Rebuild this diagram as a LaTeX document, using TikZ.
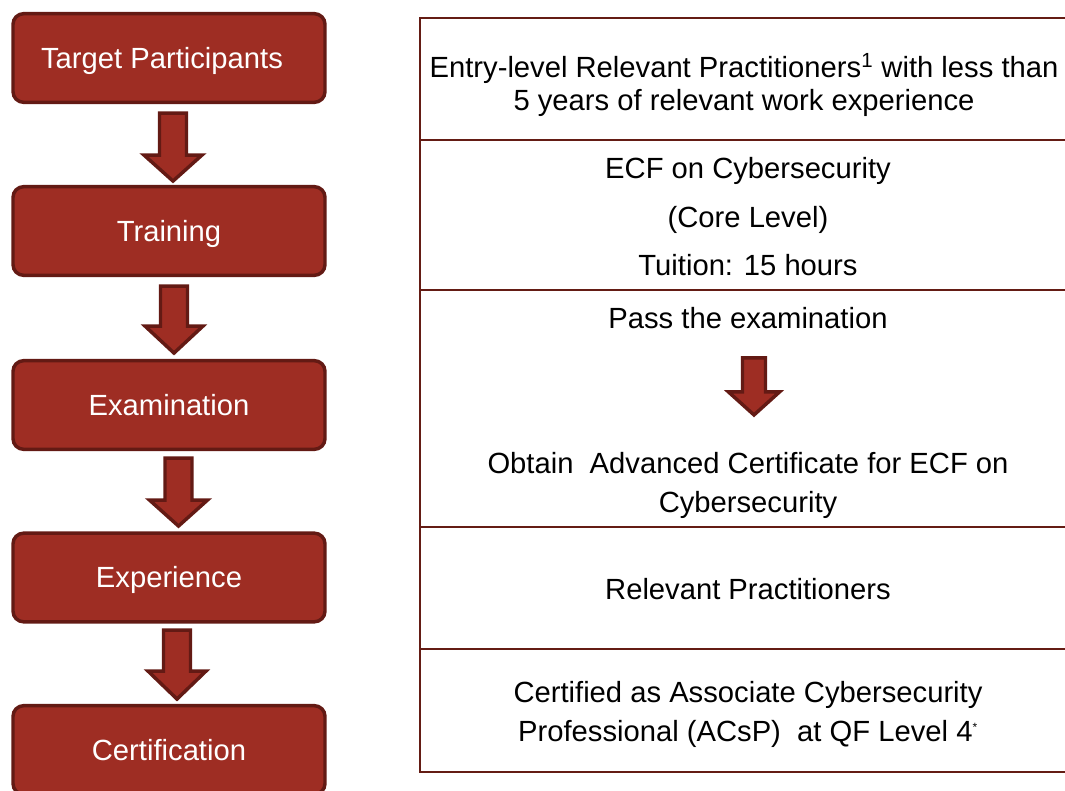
\documentclass[tikz,border=0pt]{standalone}
\usepackage{fontspec}
\setmainfont{Liberation Sans}
\usetikzlibrary{calc}
\definecolor{boxfill}{HTML}{9E2D23}
\definecolor{boxline}{HTML}{631A14}
\definecolor{tabline}{HTML}{641C14}
\newcommand\blockarr[5]{\draw[blockarrow] (#1) ++({-#4},0) -- ++(0,#2) -- ++({-(#5-#4)},0) -- ++(#5,#3) -- ++(#5,{-#3}) -- ++({-(#5-#4)},0) -- ++(0,{-#2}) -- cycle;}
\begin{document}
\begin{tikzpicture}[x=0.75pt,y=-0.75pt,
  stage/.style={draw=boxline, fill=boxfill, line width=2.6pt, rounded corners=8pt,
    minimum width=234pt, minimum height=66.5pt, inner sep=0pt, text=white,
    font=\fontsize{21.9}{26}\selectfont, text height=15.7pt, text depth=0pt},
  cell/.style={anchor=base, inner sep=0pt, text=black, font=\fontsize{21.9}{26}\selectfont},
  blockarrow/.style={draw=boxline, fill=boxfill, line width=2.6pt, line join=miter},
  tab/.style={draw=tabline, line width=1.3pt}]
\useasboundingbox (0,0) rectangle (1065,791);

% left column
\node[stage] (tp) at (169,58) {Target Participants\kern10.5pt};
\node[stage] (tr) at (169,231) {Training};
\node[stage] (ex) at (169,405) {Examination};
\node[stage] (xp) at (169,577.5) {Experience};
\node[stage] (ce) at (169,750) {Certification};

\coordinate (a1) at ($(tp.south)+(4,9)$);
\coordinate (a2) at ($(tr.south)+(5,9)$);
\coordinate (a3) at ($(ex.south)+(9.5,7)$);
\coordinate (a4) at ($(xp.south)+(8,6.5)$);
\blockarr{a1}{42}{26}{13.5}{29}
\blockarr{a2}{40}{27}{13.5}{29}
\blockarr{a3}{42}{26}{13.5}{29}
\blockarr{a4}{41}{28}{13.5}{29}

% table
\draw[tab] (1070,18) -- (420,18) -- (420,772) -- (1070,772);
\draw[tab] (420,140) -- (1070,140);
\draw[tab] (420,290) -- (1070,290);
\draw[tab] (420,527) -- (1070,527);
\draw[tab] (420,649) -- (1070,649);

\node[cell] (r1a) at (744,77.4) {Entry-level Relevant Practitioners\textsuperscript{1} with less than};
\node[cell] (r1b) at (744,110.4) {5 years of relevant work experience};
\node[cell] (r2a) at (748,178.4) {ECF on Cybersecurity};
\node[cell] (r2b) at (748,227.4) {(Core Level)};
\node[cell] (r2c) at (748,275.4) {Tuition: 15 hours};
\node[cell] (pe) at (748,328.4) {Pass the examination};
\node[cell] (ob1) at (748,473.4) {Obtain\ \ Advanced Certificate for ECF on};
\node[cell] (ob2) at (748,512.4) {Cybersecurity};
\node[cell] (rp) at (748,599.4) {Relevant Practitioners};
\node[cell] (c1) at (748,702.4) {Certified as Associate Cybersecurity};
\node[cell] (c2) at (748,741.4) {Professional (ACsP)\ \ at QF Level 4\textsuperscript{\fontsize{9}{9}\selectfont *}};

\coordinate (a5) at ($(pe.south)+(6,29)$);
\blockarr{a5}{34}{23}{11.5}{25.5}
\end{tikzpicture}
\end{document}
